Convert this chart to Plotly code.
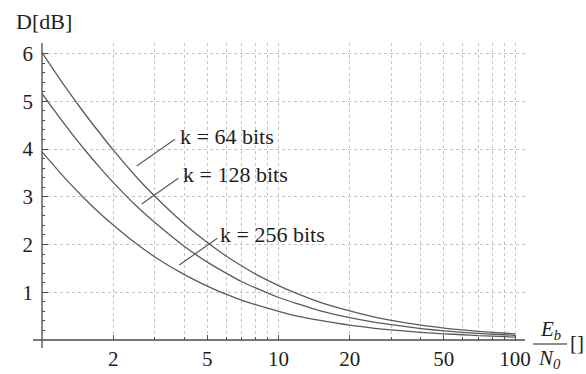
import plotly.graph_objects as go

# ---- data ----
eb_n0 = [1, 1.25, 1.5, 1.75, 2, 2.5, 3, 4, 5, 6, 7, 8, 10, 12, 15, 20, 25, 30, 40, 50, 60, 70, 80, 100]
d_k64 = [6.02, 5.31, 4.77, 4.34, 3.98, 3.42, 3.01, 2.43, 2.04, 1.76, 1.55, 1.38, 1.14, 0.97, 0.79, 0.61, 0.49, 0.41, 0.31, 0.25, 0.21, 0.18, 0.16, 0.13]
d_k128 = [5.16, 4.51, 4.01, 3.62, 3.30, 2.81, 2.46, 1.96, 1.63, 1.40, 1.22, 1.09, 0.89, 0.76, 0.61, 0.47, 0.38, 0.32, 0.24, 0.19, 0.16, 0.14, 0.12, 0.10]
d_k256 = [3.94, 3.39, 2.98, 2.66, 2.41, 2.02, 1.74, 1.37, 1.13, 0.96, 0.83, 0.74, 0.60, 0.50, 0.41, 0.31, 0.25, 0.21, 0.16, 0.13, 0.11, 0.09, 0.08, 0.06]
series_names = ["k = 64 bits", "k = 128 bits", "k = 256 bits"]
x_tick_vals = [2, 5, 10, 20, 50, 100]
x_tick_text = ["2", "5", "10", "20", "50", "100"]
x_minor_vals = [3, 4, 6, 7, 8, 9, 30, 40, 60, 70, 80, 90]
y_tick_vals = [1, 2, 3, 4, 5, 6]

W, H = 586, 374
ML, MR, MT, MB = 42, 61, 43, 34
PW, PH = W - ML - MR, H - MT - MB

def px(x):
    return (x - ML) / PW

def py(y):
    return (H - MB - y) / PH

FONT = "'Liberation Serif', 'Times New Roman', 'DejaVu Serif', serif"
TXT = "#1e1e1e"
LINE = "#5a5a5a"
AX = "#4a4a4a"
GRID = "#c4c4c4"

fig = go.Figure()
for name, vals in zip(series_names, [d_k64, d_k128, d_k256]):
    fig.add_trace(go.Scatter(x=eb_n0, y=vals, mode="lines", name=name,
                             line=dict(color=LINE, width=1.3, shape="spline", smoothing=0.6),
                             showlegend=False, hoverinfo="skip"))

fig.update_layout(
    width=W, height=H,
    margin=dict(l=ML, r=MR, t=MT, b=MB, autoexpand=False),
    paper_bgcolor="white", plot_bgcolor="white",
    font=dict(family=FONT, size=20, color=TXT),
    xaxis=dict(type="log", range=[0, 2.042], showline=False, zeroline=False, automargin=False,
               tickmode="array", tickvals=x_tick_vals, ticktext=x_tick_text,
               ticks="inside", ticklen=5, tickcolor=AX, tickwidth=1,
               showgrid=True, gridcolor=GRID, griddash="dot", gridwidth=1,
               tickfont=dict(family=FONT, size=21, color=TXT), ticklabelstandoff=4,
               minor=dict(tickmode="array", tickvals=x_minor_vals, ticks="inside", ticklen=3,
                          tickcolor=AX, showgrid=True, gridcolor=GRID, griddash="dot", gridwidth=1)),
    yaxis=dict(range=[0, 6.22], showline=False, zeroline=False, automargin=False,
               tickmode="array", tickvals=y_tick_vals,
               ticks="inside", ticklen=6, tickcolor=AX, tickwidth=1,
               showgrid=True, gridcolor=GRID, griddash="dot", gridwidth=1,
               tickfont=dict(family=FONT, size=21, color=TXT), ticklabelstandoff=8,
               minor=dict(dtick=0.2, tick0=0, ticks="inside", ticklen=3, tickcolor=AX, showgrid=False)),
)

shapes = [
    # axes (Mathematica style, slightly overshooting)
    dict(type="line", xref="paper", yref="paper", x0=px(33), x1=px(525), y0=0, y1=0,
         line=dict(color=AX, width=1.3)),
    dict(type="line", xref="paper", yref="paper", x0=0, x1=0, y0=py(348), y1=py(43),
         line=dict(color=AX, width=1.3)),
    # leader lines
    dict(type="line", xref="paper", yref="paper", x0=px(136.7), y0=py(166), x1=px(175), y1=py(139.3),
         line=dict(color=LINE, width=1.2)),
    dict(type="line", xref="paper", yref="paper", x0=px(141.7), y0=py(204), x1=px(178.3), y1=py(178.3),
         line=dict(color=LINE, width=1.2)),
    dict(type="line", xref="paper", yref="paper", x0=px(179.3), y0=py(265), x1=px(217.3), y1=py(238.3),
         line=dict(color=LINE, width=1.2)),
    # fraction bar
    dict(type="line", xref="paper", yref="paper", x0=px(533), x1=px(567), y0=py(344), y1=py(344),
         line=dict(color=TXT, width=1)),
]
fig.update_layout(shapes=shapes)

ann = [
    dict(text="D[dB]", x=px(14), y=py(22), xanchor="left", yanchor="middle", size=22),
    dict(text=series_names[0], x=px(178), y=py(136), xanchor="left", yanchor="middle", size=22),
    dict(text=series_names[1], x=px(181), y=py(174), xanchor="left", yanchor="middle", size=22),
    dict(text=series_names[2], x=px(218), y=py(235), xanchor="left", yanchor="middle", size=22),
    dict(text="<i>E<sub>b</sub></i>", x=px(550), y=py(330), xanchor="center", yanchor="middle", size=21),
    dict(text="<i>N<sub>0</sub></i>", x=px(549), y=py(359), xanchor="center", yanchor="middle", size=21),
    dict(text="[]", x=px(568), y=py(343), xanchor="left", yanchor="middle", size=21),
]
for a in ann:
    fig.add_annotation(text=a["text"], x=a["x"], y=a["y"], xref="paper", yref="paper",
                       xanchor=a["xanchor"], yanchor=a["yanchor"], showarrow=False,
                       font=dict(family=FONT, size=a["size"], color=TXT))

fig.write_html("out.html", config={"displayModeBar": False},
               post_script=["document.body.style.margin='0';"])
